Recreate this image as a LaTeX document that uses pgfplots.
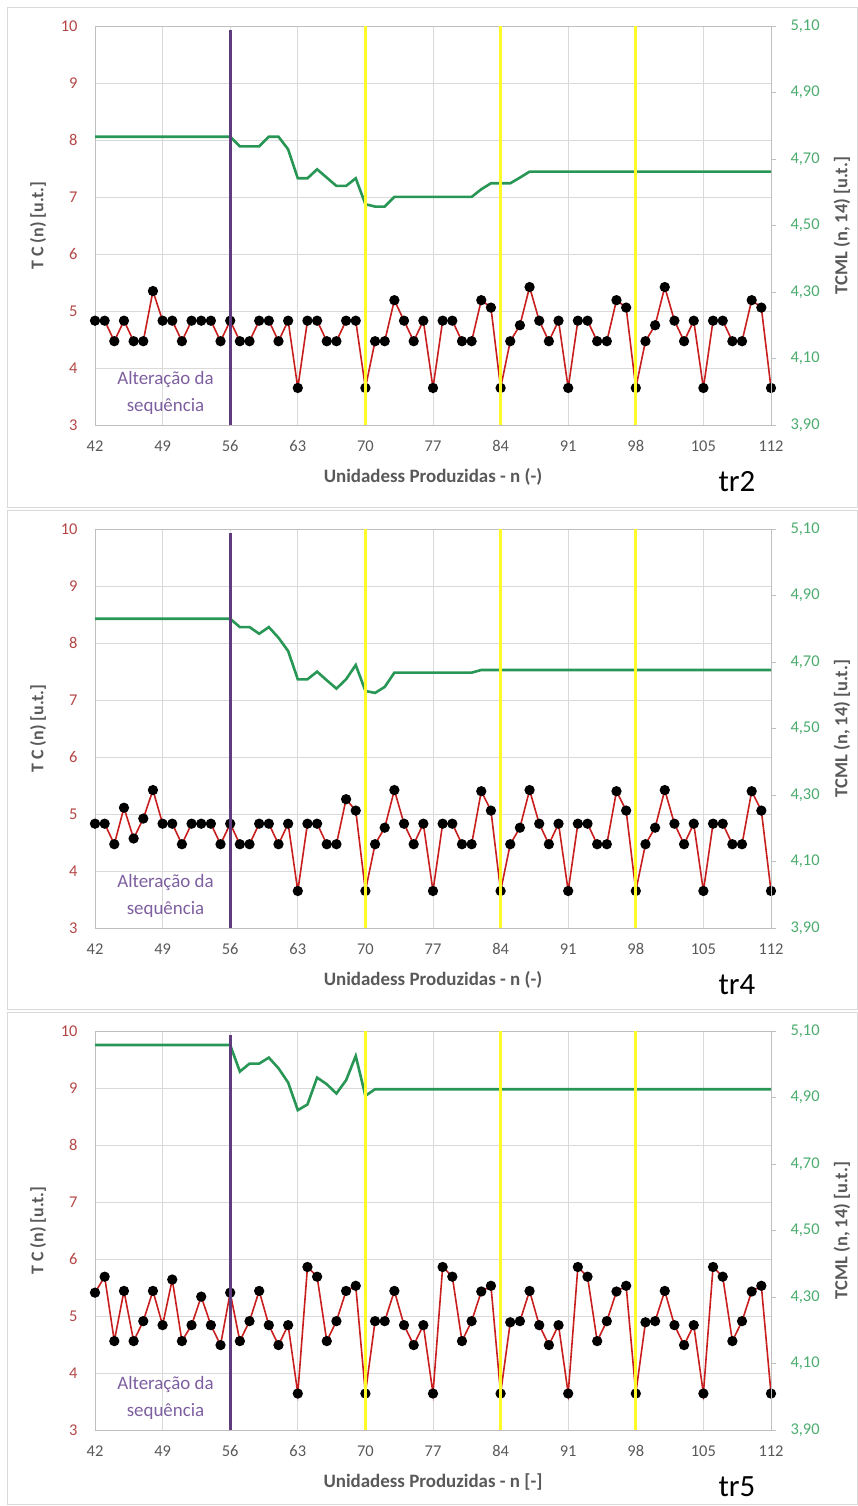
\documentclass[border=0pt]{standalone}
\usepackage{fontspec}
\setmainfont{Carlito}
\usepackage{pgfplots}
\pgfplotsset{compat=1.18}
\usepackage{pgfplotstable}

\definecolor{redline}{RGB}{200,30,30}
\definecolor{greenline}{RGB}{40,150,85}
\definecolor{purpleline}{RGB}{95,60,125}
\definecolor{purpletext}{RGB}{125,95,160}
\definecolor{yel}{RGB}{255,250,40}
\definecolor{gridc}{RGB}{217,217,217}
\definecolor{axc}{RGB}{191,191,191}
\definecolor{lefttick}{RGB}{180,70,70}
\definecolor{righttick}{RGB}{75,172,110}
\definecolor{txtgray}{RGB}{89,89,89}
\definecolor{framec}{RGB}{217,217,217}

% ---------- panel 1 (tr2) ----------
\pgfplotstableread[row sep=\\]{
n y\\
42 4.83\\ 43 4.83\\ 44 4.47\\ 45 4.83\\ 46 4.47\\ 47 4.47\\ 48 5.35\\ 49 4.83\\ 50 4.83\\ 51 4.47\\
52 4.83\\ 53 4.83\\ 54 4.83\\ 55 4.47\\ 56 4.83\\ 57 4.47\\ 58 4.47\\ 59 4.83\\ 60 4.83\\ 61 4.47\\
62 4.83\\ 63 3.65\\ 64 4.83\\ 65 4.83\\ 66 4.47\\ 67 4.47\\ 68 4.83\\ 69 4.83\\ 70 3.65\\ 71 4.47\\
72 4.47\\ 73 5.19\\ 74 4.83\\ 75 4.47\\ 76 4.83\\ 77 3.65\\ 78 4.83\\ 79 4.83\\ 80 4.47\\ 81 4.47\\
82 5.19\\ 83 5.06\\ 84 3.65\\ 85 4.47\\ 86 4.75\\ 87 5.42\\ 88 4.83\\ 89 4.47\\ 90 4.83\\ 91 3.65\\
92 4.83\\ 93 4.83\\ 94 4.47\\ 95 4.47\\ 96 5.19\\ 97 5.06\\ 98 3.65\\ 99 4.47\\ 100 4.75\\ 101 5.42\\
102 4.83\\ 103 4.47\\ 104 4.83\\ 105 3.65\\ 106 4.83\\ 107 4.83\\ 108 4.47\\ 109 4.47\\ 110 5.19\\ 111 5.06\\
112 3.65\\
}\tcA
\pgfplotstableread[row sep=\\]{
n y\\
42 4.767\\ 43 4.767\\ 44 4.767\\ 45 4.767\\ 46 4.767\\ 47 4.767\\ 48 4.767\\ 49 4.767\\ 50 4.767\\ 51 4.767\\
52 4.767\\ 53 4.767\\ 54 4.767\\ 55 4.767\\ 56 4.767\\ 57 4.738\\ 58 4.738\\ 59 4.738\\ 60 4.767\\ 61 4.767\\
62 4.729\\ 63 4.642\\ 64 4.642\\ 65 4.669\\ 66 4.644\\ 67 4.619\\ 68 4.619\\ 69 4.642\\ 70 4.564\\ 71 4.557\\
72 4.557\\ 73 4.586\\ 74 4.586\\ 75 4.586\\ 76 4.586\\ 77 4.586\\ 78 4.586\\ 79 4.586\\ 80 4.586\\ 81 4.586\\
82 4.609\\ 83 4.627\\ 84 4.627\\ 85 4.627\\ 86 4.644\\ 87 4.662\\ 88 4.662\\ 89 4.662\\ 90 4.662\\ 91 4.662\\
92 4.662\\ 93 4.662\\ 94 4.662\\ 95 4.662\\ 96 4.662\\ 97 4.662\\ 98 4.662\\ 99 4.662\\ 100 4.662\\ 101 4.662\\
102 4.662\\ 103 4.662\\ 104 4.662\\ 105 4.662\\ 106 4.662\\ 107 4.662\\ 108 4.662\\ 109 4.662\\ 110 4.662\\ 111 4.662\\
112 4.662\\
}\tmA

% ---------- panel 2 (tr4) ----------
\pgfplotstableread[row sep=\\]{
n y\\
42 4.83\\ 43 4.83\\ 44 4.47\\ 45 5.11\\ 46 4.57\\ 47 4.92\\ 48 5.42\\ 49 4.83\\ 50 4.83\\ 51 4.47\\
52 4.83\\ 53 4.83\\ 54 4.83\\ 55 4.47\\ 56 4.83\\ 57 4.47\\ 58 4.47\\ 59 4.83\\ 60 4.83\\ 61 4.47\\
62 4.83\\ 63 3.65\\ 64 4.83\\ 65 4.83\\ 66 4.47\\ 67 4.47\\ 68 5.26\\ 69 5.06\\ 70 3.65\\ 71 4.47\\
72 4.76\\ 73 5.42\\ 74 4.83\\ 75 4.47\\ 76 4.83\\ 77 3.65\\ 78 4.83\\ 79 4.83\\ 80 4.47\\ 81 4.47\\
82 5.40\\ 83 5.06\\ 84 3.65\\ 85 4.47\\ 86 4.76\\ 87 5.42\\ 88 4.83\\ 89 4.47\\ 90 4.83\\ 91 3.65\\
92 4.83\\ 93 4.83\\ 94 4.47\\ 95 4.47\\ 96 5.40\\ 97 5.06\\ 98 3.65\\ 99 4.47\\ 100 4.76\\ 101 5.42\\
102 4.83\\ 103 4.47\\ 104 4.83\\ 105 3.65\\ 106 4.83\\ 107 4.83\\ 108 4.47\\ 109 4.47\\ 110 5.40\\ 111 5.06\\
112 3.65\\
}\tcB
\pgfplotstableread[row sep=\\]{
n y\\
42 4.830\\ 43 4.830\\ 44 4.830\\ 45 4.830\\ 46 4.830\\ 47 4.830\\ 48 4.830\\ 49 4.830\\ 50 4.830\\ 51 4.830\\
52 4.830\\ 53 4.830\\ 54 4.830\\ 55 4.830\\ 56 4.830\\ 57 4.805\\ 58 4.805\\ 59 4.785\\ 60 4.805\\ 61 4.773\\
62 4.733\\ 63 4.648\\ 64 4.648\\ 65 4.671\\ 66 4.645\\ 67 4.620\\ 68 4.648\\ 69 4.691\\ 70 4.613\\ 71 4.607\\
72 4.625\\ 73 4.668\\ 74 4.668\\ 75 4.668\\ 76 4.668\\ 77 4.668\\ 78 4.668\\ 79 4.668\\ 80 4.668\\ 81 4.668\\
82 4.676\\ 83 4.676\\ 84 4.676\\ 85 4.676\\ 86 4.676\\ 87 4.676\\ 88 4.676\\ 89 4.676\\ 90 4.676\\ 91 4.676\\
92 4.676\\ 93 4.676\\ 94 4.676\\ 95 4.676\\ 96 4.676\\ 97 4.676\\ 98 4.676\\ 99 4.676\\ 100 4.676\\ 101 4.676\\
102 4.676\\ 103 4.676\\ 104 4.676\\ 105 4.676\\ 106 4.676\\ 107 4.676\\ 108 4.676\\ 109 4.676\\ 110 4.676\\ 111 4.676\\
112 4.676\\
}\tmB

% ---------- panel 3 (tr5) ----------
\pgfplotstableread[row sep=\\]{
n y\\
42 5.41\\ 43 5.69\\ 44 4.56\\ 45 5.44\\ 46 4.56\\ 47 4.91\\ 48 5.44\\ 49 4.84\\ 50 5.64\\ 51 4.56\\
52 4.84\\ 53 5.34\\ 54 4.84\\ 55 4.49\\ 56 5.41\\ 57 4.56\\ 58 4.91\\ 59 5.44\\ 60 4.84\\ 61 4.49\\
62 4.84\\ 63 3.64\\ 64 5.86\\ 65 5.69\\ 66 4.56\\ 67 4.91\\ 68 5.44\\ 69 5.53\\ 70 3.64\\ 71 4.91\\
72 4.91\\ 73 5.44\\ 74 4.84\\ 75 4.49\\ 76 4.84\\ 77 3.64\\ 78 5.86\\ 79 5.69\\ 80 4.56\\ 81 4.91\\
82 5.43\\ 83 5.53\\ 84 3.64\\ 85 4.89\\ 86 4.91\\ 87 5.44\\ 88 4.84\\ 89 4.49\\ 90 4.84\\ 91 3.64\\
92 5.86\\ 93 5.69\\ 94 4.56\\ 95 4.91\\ 96 5.43\\ 97 5.53\\ 98 3.64\\ 99 4.89\\ 100 4.91\\ 101 5.44\\
102 4.84\\ 103 4.49\\ 104 4.84\\ 105 3.64\\ 106 5.86\\ 107 5.69\\ 108 4.56\\ 109 4.91\\ 110 5.43\\ 111 5.53\\
112 3.64\\
}\tcC
\pgfplotstableread[row sep=\\]{
n y\\
42 5.058\\ 43 5.058\\ 44 5.058\\ 45 5.058\\ 46 5.058\\ 47 5.058\\ 48 5.058\\ 49 5.058\\ 50 5.058\\ 51 5.058\\
52 5.058\\ 53 5.058\\ 54 5.058\\ 55 5.058\\ 56 5.058\\ 57 4.978\\ 58 5.002\\ 59 5.002\\ 60 5.020\\ 61 4.988\\
62 4.945\\ 63 4.862\\ 64 4.879\\ 65 4.960\\ 66 4.940\\ 67 4.912\\ 68 4.952\\ 69 5.025\\ 70 4.905\\ 71 4.925\\
72 4.925\\ 73 4.925\\ 74 4.925\\ 75 4.925\\ 76 4.925\\ 77 4.925\\ 78 4.925\\ 79 4.925\\ 80 4.925\\ 81 4.925\\
82 4.925\\ 83 4.925\\ 84 4.925\\ 85 4.925\\ 86 4.925\\ 87 4.925\\ 88 4.925\\ 89 4.925\\ 90 4.925\\ 91 4.925\\
92 4.925\\ 93 4.925\\ 94 4.925\\ 95 4.925\\ 96 4.925\\ 97 4.925\\ 98 4.925\\ 99 4.925\\ 100 4.925\\ 101 4.925\\
102 4.925\\ 103 4.925\\ 104 4.925\\ 105 4.925\\ 106 4.925\\ 107 4.925\\ 108 4.925\\ 109 4.925\\ 110 4.925\\ 111 4.925\\
112 4.925\\
}\tmC

\pgfplotsset{
  panelbase/.style={
    scale only axis, width=676bp, height=399bp,
    xmin=42, xmax=112,
    /pgf/number format/assume math mode=true,
    anchor=south west,
  },
}

% #1 plot-bottom y (bp, negative), #2 TC table, #3 TCML table, #4 x label, #5 tr label
\newcommand{\panel}[5]{%
\begin{axis}[panelbase, at={(95bp,#1bp)},
    ymin=3, ymax=10,
    xtick={42,49,...,112}, ytick={3,4,...,10},
    grid=major, major grid style={gridc, line width=0.8bp},
    axis line style={axc, line width=0.8bp},
    major tick length=0pt,
    xticklabel style={font=\fontsize{16.5}{16.5}\selectfont, text=txtgray, yshift=-12bp},
    yticklabel style={font=\fontsize{16.5}{16.5}\selectfont, text=lefttick, xshift=-14bp},
    clip=false,
  ]
  \addplot[redline, line width=1.6bp, mark=*, mark size=4.3bp,
           mark options={fill=black, draw=black, solid}] table[x=n, y=y] {#2};
  \node[align=center, text=purpletext, font=\fontsize{19}{27}\selectfont]
     at (axis cs:49.3,3.56) {Alteração da\\sequência};
\end{axis}
\begin{axis}[panelbase, at={(95bp,#1bp)},
    ymin=3.9, ymax=5.1,
    axis y line*=right, axis x line=none,
    ytick={3.9,4.1,4.3,4.5,4.7,4.9,5.1},
    yticklabels={{3,90},{4,10},{4,30},{4,50},{4,70},{4,90},{5,10}},
    yticklabel style={font=\fontsize{16.5}{16.5}\selectfont, text=righttick, xshift=11bp},
    axis line style={axc, line width=0.8bp},
    ytick style={axc, line width=0.8bp},
    major tick length=5bp, tick align=outside,
    clip=false,
  ]
  \addplot[greenline, line width=2.6bp] table[x=n, y=y] {#3};
  \addplot[purpleline, line width=2.6bp] coordinates {(56,3.9) (56,5.088)};
  \addplot[yel, line width=3bp] coordinates {(70,3.9) (70,5.1)};
  \addplot[yel, line width=3bp] coordinates {(84,3.9) (84,5.1)};
  \addplot[yel, line width=3bp] coordinates {(98,3.9) (98,5.1)};
  \node[rotate=90, text=txtgray, font=\bfseries\fontsize{18}{18}\selectfont]
     at (axis description cs:-0.0843,0.5) {T C  (n) [u.t.]};
  \node[rotate=90, text=txtgray, font=\bfseries\fontsize{18.5}{18.5}\selectfont]
     at (axis description cs:1.105,0.5) {TCML (n, 14) [u.t.]};
  \node[text=txtgray, font=\bfseries\fontsize{19}{19}\selectfont]
     at (axis description cs:0.5,-0.1303) {#4};
  \node[text=black, font=\fontsize{31}{31}\selectfont]
     at (axis description cs:0.9497,-0.1429) {#5};
\end{axis}
}

\begin{document}
\begin{tikzpicture}
\useasboundingbox (0bp,0bp) rectangle (858bp,-1506bp);
\draw[framec, line width=1bp] (7bp,-7bp) rectangle (857bp,-507bp);
\draw[framec, line width=1bp] (7bp,-510bp) rectangle (857bp,-1009bp);
\draw[framec, line width=1bp] (7bp,-1012bp) rectangle (857bp,-1504bp);
\panel{-425}{\tcA}{\tmA}{Unidadess Produzidas - n (-)}{tr2}
\panel{-928}{\tcB}{\tmB}{Unidadess Produzidas - n (-)}{tr4}
\panel{-1430}{\tcC}{\tmC}{Unidadess Produzidas - n [-]}{tr5}
\end{tikzpicture}
\end{document}
